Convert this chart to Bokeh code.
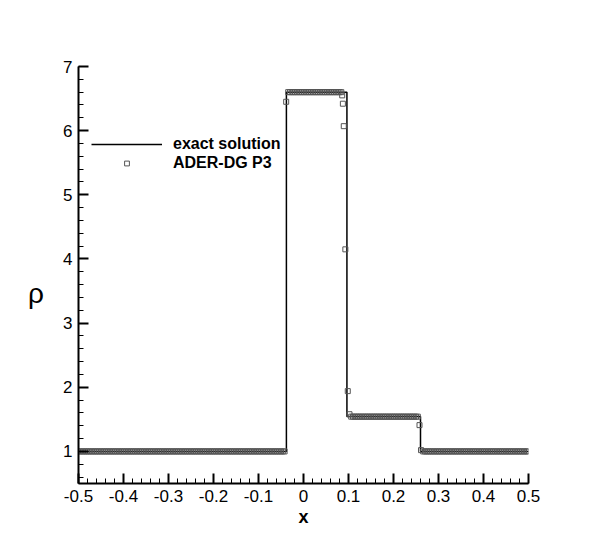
import numpy as np
from bokeh.plotting import figure
from bokeh.models import (FixedTicker, CustomJSTickFormatter, Legend, LegendItem,
                          Range1d)
from bokeh.embed import file_html
from bokeh.resources import INLINE

# ---------------- data ----------------
# exact solution: piecewise constant density
exact_breaks = [-0.038, 0.0965, 0.26]
exact_levels = [1.0, 6.6, 1.546, 1.0]

# numerical solution (ADER-DG P3): plateau sample spans (start, end, rho) on a uniform grid
grid_dx = 0.004
num_span_start = [-0.498, -0.034, 0.106, 0.266]
num_span_end = [-0.042, 0.084, 0.254, 0.498]
num_span_rho = [1.0, 6.6, 1.542, 1.0]
# points inside the discontinuities
trans_x = [-0.0385, 0.086, 0.0875, 0.0895, 0.093, 0.0984, 0.1022, 0.2578, 0.2612]
trans_rho = [6.45, 6.55, 6.42, 6.07, 4.15, 1.94, 1.58, 1.41, 1.02]

x_major = [-0.5, -0.4, -0.3, -0.2, -0.1, 0.0, 0.1, 0.2, 0.3, 0.4, 0.5]
y_major = [1, 2, 3, 4, 5, 6, 7]

# ---------------- build series ----------------
ex_x = [-0.5]
ex_y = [exact_levels[0]]
for b, lo, hi in zip(exact_breaks, exact_levels[:-1], exact_levels[1:]):
    ex_x += [b, b]
    ex_y += [lo, hi]
ex_x.append(0.5)
ex_y.append(exact_levels[-1])

nx, ny = [], []
for s, e, r in zip(num_span_start, num_span_end, num_span_rho):
    n = int(round((e - s) / grid_dx)) + 1
    xs = np.linspace(s, e, n)
    nx += list(xs)
    ny += [r] * n
nx += trans_x
ny += trans_rho

FONT = "Liberation Sans"

p = figure(width=591, height=537, output_backend="svg", toolbar_location=None,
           x_range=Range1d(-0.5, 0.5), y_range=Range1d(0.5, 7.0),
           min_border_left=78, min_border_right=63, min_border_top=66,
           min_border_bottom=54)
p.outline_line_color = None
p.xgrid.visible = False
p.ygrid.visible = False
p.background_fill_color = "white"
p.border_fill_color = "white"

r_line = p.line(ex_x, ex_y, line_color="black", line_width=1.5)
r_pts = p.scatter(nx, ny, marker="square", size=5, fill_color=None,
                  line_color="#555555", line_width=1)

# axes
xminor = [round(v, 3) for v in np.arange(-0.5, 0.5001, 0.02)]
yminor = [round(v, 3) for v in np.arange(0.6, 7.0001, 0.2)]
p.xaxis.ticker = FixedTicker(ticks=x_major, minor_ticks=xminor)
p.yaxis.ticker = FixedTicker(ticks=y_major, minor_ticks=yminor)
p.xaxis.formatter = CustomJSTickFormatter(
    code="return Math.abs(tick) < 1e-9 ? '0' : tick.toFixed(1);")
for ax in (p.xaxis[0], p.yaxis[0]):
    ax.axis_line_width = 2
    ax.axis_line_color = "black"
    ax.major_tick_in = 10
    ax.major_tick_out = 0
    ax.minor_tick_in = 5
    ax.minor_tick_out = 0
    ax.major_tick_line_width = 2
    ax.minor_tick_line_width = 1
    ax.major_tick_line_color = "black"
    ax.minor_tick_line_color = "black"
    ax.major_label_text_font = FONT
    ax.major_label_text_font_size = "17px"
    ax.major_label_text_color = "black"
    ax.major_label_standoff = 6
    ax.axis_label_text_color = "black"
    ax.axis_label_text_font = FONT

p.xaxis.axis_label = "x"
p.xaxis.axis_label_text_font_style = "bold"
p.xaxis.axis_label_text_font_size = "18px"
p.xaxis.axis_label_standoff = 2

# y axis title: upright rho, sitting a little below the middle
p.yaxis.axis_label = "\nρ"
p.yaxis.axis_label_text_font_style = "normal"
p.yaxis.axis_label_text_font_size = "28px"
p.yaxis.axis_label_standoff = 16
try:
    p.yaxis.axis_label_orientation = "horizontal"
except Exception:
    pass

legend = Legend(items=[LegendItem(label="exact solution", renderers=[r_line]),
                       LegendItem(label="ADER-DG P3", renderers=[r_pts])],
                location=(13, 311))
legend.border_line_color = None
legend.background_fill_alpha = 0
legend.padding = 0
legend.margin = 0
legend.spacing = 0
legend.glyph_width = 71
legend.glyph_height = 12
legend.label_height = 19
legend.label_standoff = 11
legend.label_text_font = FONT
legend.label_text_font_size = "16px"
legend.label_text_font_style = "bold"
legend.label_text_color = "black"
p.add_layout(legend, "center")

open("out.html", "w").write(file_html(p, INLINE))
